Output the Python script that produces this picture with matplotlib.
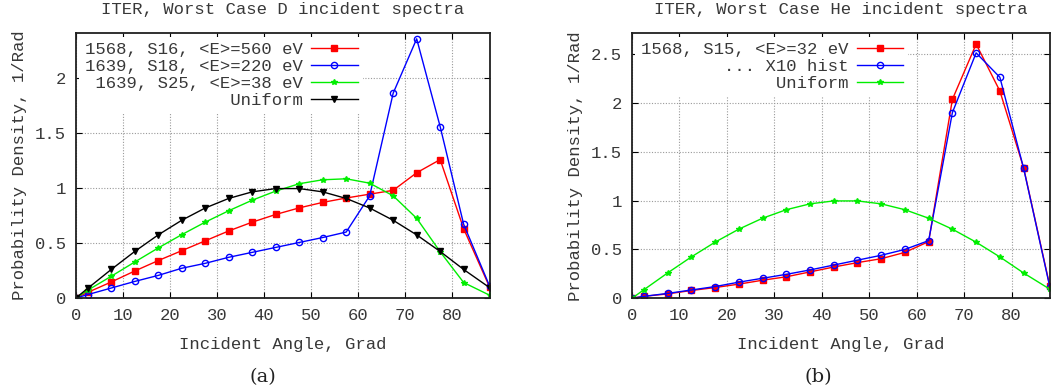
import matplotlib
matplotlib.use("Agg")
import matplotlib.pyplot as plt

# Incident angle bins (degrees)
angles = [0, 2.5, 7.5, 12.5, 17.5, 22.5, 27.5, 32.5, 37.5, 42.5, 47.5,
          52.5, 57.5, 62.5, 67.5, 72.5, 77.5, 82.5, 88]

# (a) D spectra
d_s16 = [0, 0.05, 0.145, 0.245, 0.34, 0.43, 0.52, 0.61, 0.69, 0.76, 0.82,
         0.87, 0.91, 0.945, 0.98, 1.14, 1.26, 0.63, 0.10]
d_s18 = [0, 0.03, 0.09, 0.15, 0.205, 0.27, 0.315, 0.37, 0.415, 0.46, 0.505,
         0.55, 0.60, 0.93, 1.865, 2.36, 1.56, 0.67, 0.11]
d_s25 = [0, 0.07, 0.197, 0.327, 0.455, 0.576, 0.69, 0.794, 0.89, 0.973, 1.04,
         1.076, 1.085, 1.045, 0.93, 0.725, 0.42, 0.14, 0.025]
uniform = [0, 0.087, 0.259, 0.423, 0.574, 0.707, 0.819, 0.906, 0.966, 0.996,
           0.996, 0.966, 0.906, 0.819, 0.707, 0.574, 0.423, 0.259, 0.094]

# (b) He spectra
he_s15 = [0, 0.02, 0.045, 0.08, 0.11, 0.145, 0.185, 0.22, 0.27, 0.32, 0.365,
          0.405, 0.47, 0.58, 2.035, 2.60, 2.12, 1.335, 0.13]
he_x10 = [0, 0.02, 0.05, 0.085, 0.12, 0.165, 0.205, 0.245, 0.29, 0.34, 0.39,
          0.44, 0.50, 0.59, 1.90, 2.51, 2.26, 1.33, 0.12]

labels_a = ["1568, S16, <E>=560 eV", "1639, S18, <E>=220 eV",
            "1639, S25, <E>=38 eV", "Uniform"]
labels_b = ["1568, S15, <E>=32 eV", "... X10 hist", "Uniform"]

MONO = ["Liberation Mono", "DejaVu Sans Mono"]
TXT = "#383838"
FS = 12.4

plt.rcParams["font.family"] = MONO
plt.rcParams["font.size"] = FS

fig = plt.figure(figsize=(10.55, 3.92), dpi=100)
ax1 = fig.add_axes([0.072, 0.240, 0.392, 0.675])
ax2 = fig.add_axes([0.599, 0.239, 0.396, 0.676])


def pad(labels):
    w = max(len(s) for s in labels)
    return [s.rjust(w) for s in labels]


def style(ax, ymax, yticks, title):
    ax.set_xlim(0, 88)
    ax.set_ylim(0, ymax)
    ax.set_xticks(range(0, 90, 10))
    ax.set_yticks(yticks)
    ax.set_yticklabels([("%g" % v) for v in yticks])
    ax.grid(True, color="#9a9a9a", linestyle=(0, (1, 1.5)), linewidth=0.8)
    ax.set_axisbelow(True)
    ax.tick_params(direction="in", length=4, width=0.8, top=True, right=True,
                   colors="black", labelcolor=TXT, labelsize=FS, pad=7)
    for s in ax.spines.values():
        s.set_linewidth(1.3)
        s.set_color("#202020")
    ax.set_title(title, color=TXT, fontsize=FS, pad=14)
    ax.set_xlabel("Incident Angle, Grad", color=TXT, fontsize=FS, labelpad=10)
    ax.set_ylabel("Probability Density, 1/Rad", color=TXT, fontsize=FS,
                  labelpad=6)


lw = 1.0
# ---- (a)
ax1.plot(angles, d_s16, color="#ff0000", lw=lw, marker="s", ms=4.5,
         label=pad(labels_a)[0])
ax1.plot(angles, d_s18, color="#0000ff", lw=lw, marker="o", ms=4.5,
         mfc="none", mew=1.0, label=pad(labels_a)[1])
ax1.plot(angles, d_s25, color="#00ee00", lw=lw, marker="*", ms=4,
         label=pad(labels_a)[2])
ax1.plot(angles, uniform, color="black", lw=lw, marker="v", ms=4.5,
         label=pad(labels_a)[3])
style(ax1, 2.41, [0, 0.5, 1, 1.5, 2], "ITER, Worst Case D incident spectra")

# ---- (b)
ax2.plot(angles, he_s15, color="#ff0000", lw=lw, marker="s", ms=4.5,
         label=pad(labels_b)[0])
ax2.plot(angles, he_x10, color="#0000ff", lw=lw, marker="o", ms=4.5,
         mfc="none", mew=1.0, label=pad(labels_b)[1])
ax2.plot(angles, uniform, color="#00ee00", lw=lw, marker="*", ms=4,
         label=pad(labels_b)[2])
style(ax2, 2.71, [0, 0.5, 1, 1.5, 2, 2.5], "ITER, Worst Case He incident spectra")

for ax in (ax1, ax2):
    leg = ax.legend(loc="upper left", markerfirst=False, frameon=True,
                    fancybox=False, edgecolor="none", facecolor="white",
                    framealpha=1.0, handlelength=2.7, handletextpad=0.5,
                    labelspacing=0.12, borderaxespad=0.2, borderpad=0.3,
                    prop={"family": MONO, "size": FS})
    for t in leg.get_texts():
        t.set_color(TXT)

fig.text(0.249, 0.038, "(a)", ha="center", va="center", fontsize=14,
         family="DejaVu Serif", color="#222222")
fig.text(0.776, 0.038, "(b)", ha="center", va="center", fontsize=14,
         family="DejaVu Serif", color="#222222")

fig.savefig("out.png", dpi=100)
